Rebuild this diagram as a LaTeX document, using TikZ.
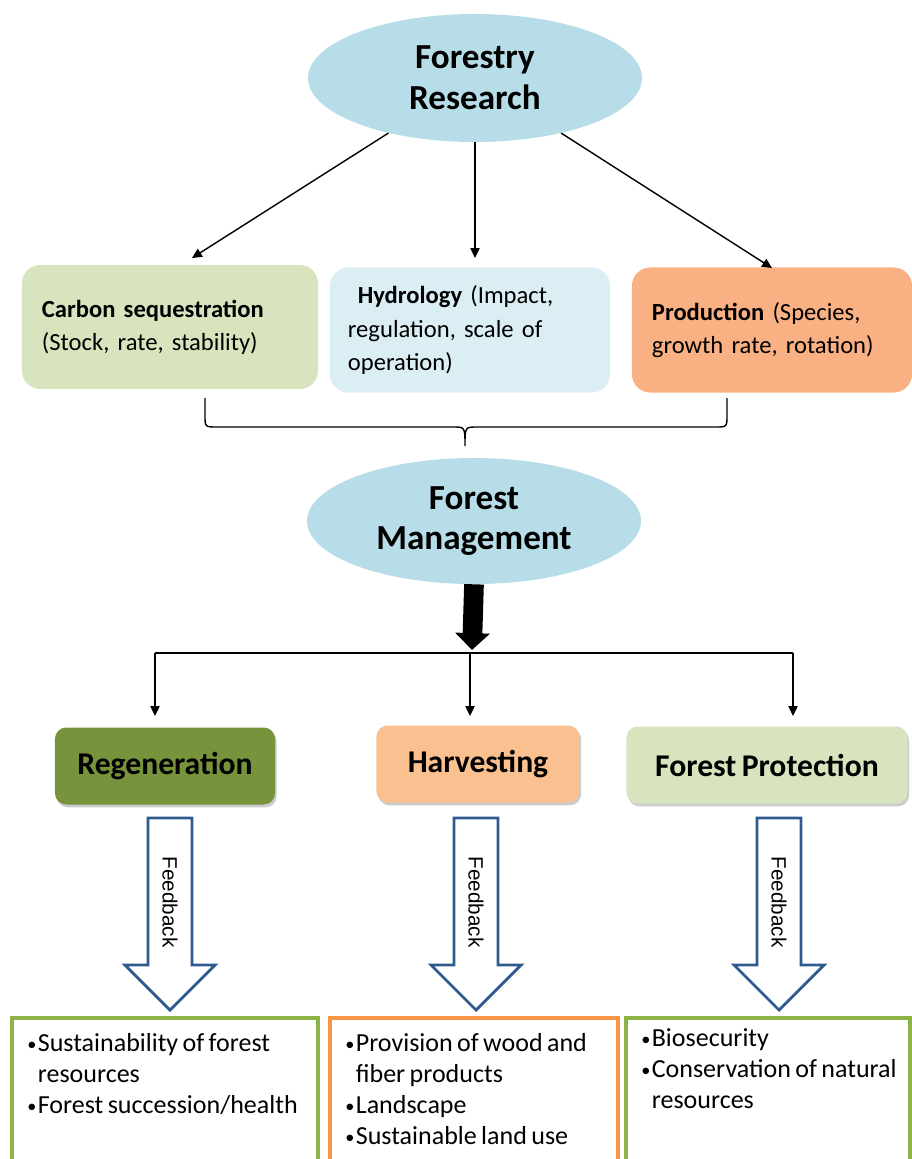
\documentclass[tikz,border=0pt]{standalone}
\usepackage{fontspec}
\setmainfont[WordSpace=0.75]{Carlito}
\newfontfamily\arialfont{Liberation Sans}
\usepackage{tikz}
\usetikzlibrary{arrows.meta,positioning,shapes.geometric,shadows}
\definecolor{skyfill}{HTML}{B7DEE8}
\definecolor{olivefill}{HTML}{D7E4BD}
\definecolor{aquafill}{HTML}{DBEEF4}
\definecolor{prodfill}{HTML}{F9B183}
\definecolor{harvfill}{HTML}{FAC090}
\definecolor{regenfill}{HTML}{77933C}
\definecolor{fbblue}{HTML}{2F5A8E}
\definecolor{grnline}{HTML}{8DB446}
\definecolor{orgline}{HTML}{F79646}
\tikzset{
  topic/.style={
    ellipse,
    fill=skyfill,
    minimum width=8.35cm,
    minimum height=3.2cm,
    inner sep=0pt,
    align=center,
    font=\bfseries\fontsize{25}{29}\selectfont
  },
  theme/.style={
    rectangle,
    rounded corners=13pt,
    minimum height=3.1cm,
    inner xsep=0.5cm,
    inner ysep=0pt,
    align=left,
    font=\fontsize{17.5}{23.5}\selectfont
  },
  task/.style={
    rectangle,
    rounded corners=8pt,
    minimum height=1.925cm,
    inner sep=0pt,
    font=\bfseries\fontsize{22.5}{27}\selectfont,
    drop shadow={shadow xshift=1.2pt, shadow yshift=-2pt, fill=black!40}
  },
  outcome/.style={
    anchor=north west,
    inner sep=0pt,
    align=left,
    font=\fontsize{18.5}{22}\selectfont
  },
  outline/.style={line width=2.4pt},
  connection/.style={
    line width=1pt,
    -{Triangle[length=7pt,width=6.5pt]}
  },
  bigarrow/.style={
    line width=14pt,
    -{Triangle[length=12pt,width=24pt]}
  },
  fbarrow/.style={
    draw=fbblue,
    line width=2pt,
    fill=white,
    line join=miter
  },
  fblabel/.style={
    rotate=-90,
    inner sep=0pt,
    font=\arialfont\fontsize{14.7}{17}\selectfont
  }
}
\newcommand{\bul}{\makebox[7.5pt][l]{\raisebox{0.5pt}{\fontsize{13}{13}\selectfont\textbullet}}}
\newcommand{\feedbackarrow}[2]{%
  \begin{scope}[shift={#1}]
    \draw[fbarrow] (-22,0) -- (-22,147) -- (-45,147) -- (0,192) -- (45,147) -- (22,147) -- (22,0) -- cycle;
    \node[fblabel] (#2) at (0,84) {Feedback};
  \end{scope}%
}

\begin{document}
\begin{tikzpicture}[x=0.025cm, y=-0.025cm]
  % Fix page to the reference size (pixels)
  \useasboundingbox (0,0) rectangle (912,1159);
  \clip (0,0) rectangle (912,1159);

  % Research
  \node[topic] (fr) at (475,78) {Forestry\\Research};

  \node[theme, fill=olivefill, text width=6.4cm] (carbon) at (170,327)
    {\textbf{Carbon sequestration}\\(Stock, rate, stability)};
  \node[theme, fill=aquafill, text width=6.1cm, inner xsep=0.45cm, minimum height=3.125cm] (hydro) at (470,330)
    {\hspace*{7pt}\textbf{Hydrology} (Impact,\\regulation, scale of\\operation)};
  \node[theme, fill=prodfill, text width=6cm, minimum height=3.125cm] (prod) at (772,330)
    {\textbf{Production} (Species,\\growth rate, rotation)};

  \coordinate (carbon-in) at (192,258);
  \coordinate (hydro-in) at (475,258);
  \coordinate (prod-in) at (772,268);
  \draw[connection] (fr) -- (carbon-in);
  \draw[connection] (fr) -- (hydro-in);
  \draw[connection] (fr) -- (prod-in);

  % Brace
  \draw[line width=1pt] (205,398) -- (205,415) .. controls (205,427) .. (217,427) -- (453,427)
    .. controls (465,427) .. (465,446) .. controls (465,427) .. (477,427) -- (715,427)
    .. controls (727,427) .. (727,415) -- (727,398);

  % Management
  \node[topic, minimum height=3.15cm] (fm) at (474,521) {Forest\\Management};

  \coordinate (hub) at (472,650);
  \coordinate (bl) at (155,653);
  \coordinate (bm) at (470,653);
  \coordinate (br) at (793,653);
  \draw[bigarrow] (fm.south) -- (hub);
  \draw[line width=1pt] (bl) -- (br);
  \coordinate (regen-in) at (155,716);
  \coordinate (harv-in) at (470,716);
  \coordinate (prot-in) at (793,716);
  \draw[connection] (bl) -- (regen-in);
  \draw[connection] (bm) -- (harv-in);
  \draw[connection] (br) -- (prot-in);

  \node[task, fill=regenfill, minimum width=5.5cm] (regen) at (165,766) {Regeneration};
  \node[task, fill=harvfill, minimum width=5.075cm] (harv) at (478,764) {Harvesting};
  \node[task, fill=olivefill, minimum width=7.025cm] (prot) at (767,765) {Forest Protection};

  % Feedback
  \feedbackarrow{(170,818)}{fb-regen}
  \feedbackarrow{(476,818)}{fb-harv}
  \feedbackarrow{(779,818)}{fb-prot}

  % Outcomes
  \draw[outline, draw=grnline] (12,1018) rectangle (318,1175);
  \draw[outline, draw=orgline] (330,1018) rectangle (618,1175);
  \draw[outline, draw=grnline] (626,1018) rectangle (910,1175);

  \node[outcome] (out-regen) at (27,1033)
    {\bul Sustainability of forest\\\hspace*{7.5pt}resources\\\bul Forest succession/health};
  \node[outcome] (out-harv) at (345,1033)
    {\bul Provision of wood and\\\hspace*{7.5pt}fiber products\\\bul Landscape\\\bul Sustainable land use};
  \node[outcome] (out-prot) at (641,1028)
    {\bul Biosecurity\\\bul Conservation of natural\\\hspace*{7.5pt}resources};
\end{tikzpicture}
\end{document}
